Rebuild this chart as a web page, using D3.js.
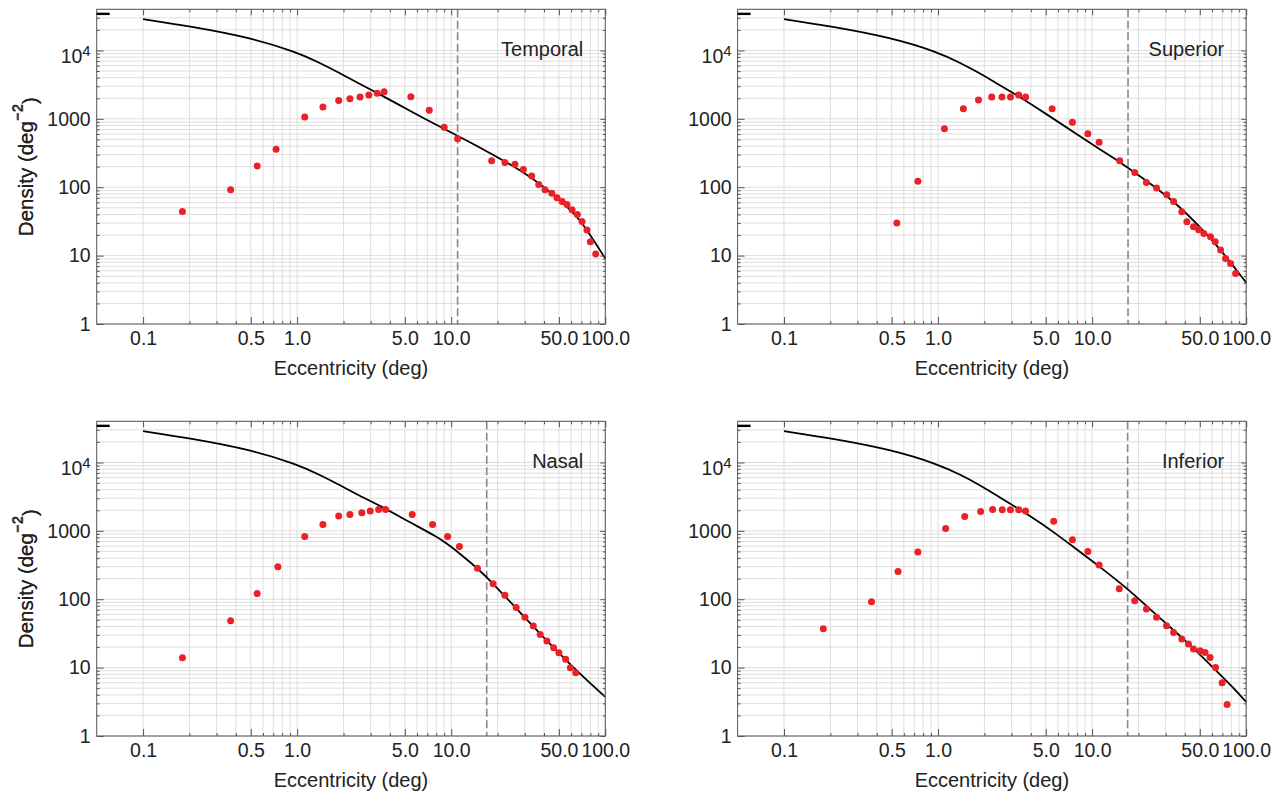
<!DOCTYPE html>
<html>
<head>
<meta charset="utf-8">
<script src="https://cdn.jsdelivr.net/npm/d3@7"></script>
<style>
  body { margin: 0; background: #fff; }
  svg text { font-family: "Liberation Sans", Arial, Helvetica, sans-serif; fill: #222; }
</style>
</head>
<body>
<svg id="chart" width="1283" height="796"></svg>
<script>
// ---- data ----
const temporalEcc = [0.18, 0.37, 0.55, 0.73, 1.12, 1.47, 1.86, 2.2, 2.56, 2.92, 3.31, 3.67, 5.47, 7.2, 9.0, 11.0,
  18.3, 22.3, 25.9, 29.4, 33.3, 37, 40.6, 45, 48.6, 52.4, 56.4, 60.8, 65.8, 70.6, 76, 80, 86.7];
const temporalDensity = [44, 92, 205, 360, 1060, 1490, 1860, 1970, 2080, 2230, 2360, 2500, 2110, 1340, 755, 510,
  243, 230, 217, 181, 146, 110, 92, 82, 70, 62, 56, 47, 40, 31.6, 23.7, 15.9, 10.6];
const temporalFitEcc = [0.1, 0.2, 0.5, 1.0, 1.4, 1.8, 2.43, 3.31, 5.4, 8.04, 13.2, 16.2, 29.4, 41.6, 56, 68.5, 83.6, 100];
const temporalFitDensity = [28650, 22630, 15350, 9410, 6600, 4955, 3420, 2400, 1306, 814, 455, 356, 169, 94.4, 53.7, 33.5, 17.1, 9.07];

const superiorEcc = [0.54, 0.74, 1.1, 1.46, 1.83, 2.23, 2.6, 2.95, 3.34, 3.7, 5.5, 7.45, 9.38, 11.1,
  15.1, 18.9, 22.5, 26.2, 30.5, 33.8, 38.2, 41.2, 45.5, 49.1, 53.1, 58.7, 62.9, 68.2, 73.5, 79.2, 85.4];
const superiorDensity = [30, 122, 716, 1406, 1880, 2080, 2080, 2080, 2230, 2080, 1406, 895, 605, 455,
  243, 164, 117, 97.5, 77.9, 62, 43.9, 31.3, 26.4, 23.9, 21.1, 18.9, 15.9, 12.1, 9.07, 7.65, 5.47];
const superiorFitEcc = [0.1, 0.2, 0.5, 1.0, 1.4, 1.8, 2.3, 3.34, 5.06, 7.53, 11.2, 15.1, 20.4, 33.6, 54.9, 71, 100];
const superiorFitDensity = [28650, 22630, 15350, 9410, 6550, 4850, 3500, 2150, 1170, 645, 358, 235, 146, 65, 21.4, 10.9, 4.03];

const nasalEcc = [0.18, 0.37, 0.55, 0.75, 1.12, 1.47, 1.86, 2.2, 2.63, 2.98, 3.38, 3.75, 5.58, 7.57, 9.47, 11.3,
  14.8, 18.7, 22.3, 26.4, 30.1, 34.1, 37.8, 41.8, 46.2, 50, 55.3, 59.3, 64.3];
const nasalDensity = [13.9, 48.5, 121, 298, 828, 1242, 1645, 1740, 1840, 1945, 2060, 2060, 1740, 1242, 828, 591,
  284, 169, 114, 76, 54.3, 40.6, 30.5, 24.5, 19.5, 16.5, 13.2, 9.93, 8.4];
const nasalFitEcc = [0.1, 0.2, 0.5, 1.0, 1.4, 1.8, 2.43, 3.5, 5.4, 8.0, 9.47, 11.3, 14.8, 18.7, 25.2, 41.6, 68.5, 100];
const nasalFitDensity = [28650, 22630, 15350, 9410, 6600, 4955, 3420, 2300, 1330, 830, 640, 471, 284, 170, 82, 24.7, 8.0, 3.73];

const inferiorEcc = [0.18, 0.37, 0.55, 0.74, 1.12, 1.49, 1.89, 2.26, 2.61, 2.95, 3.34, 3.7, 5.63, 7.45, 9.38, 11.1,
  15.0, 18.9, 22.5, 26.2, 30.4, 33.8, 38.2, 42.2, 45.5, 50.2, 54.1, 58.3, 63.2, 69.8, 75.2];
const inferiorDensity = [37, 92, 254, 490, 1084, 1625, 1925, 2060, 2040, 2040, 2040, 1945, 1386, 741, 499, 318,
  142, 95.4, 72, 54.3, 41, 32.7, 26.2, 22.1, 18.7, 17.6, 16.7, 14.1, 10, 6.0, 2.88];
const inferiorFitEcc = [0.1, 0.2, 0.5, 1.0, 1.4, 1.8, 2.52, 4.14, 5.64, 7.45, 11.1, 17.0, 22.5, 30.4, 41, 61, 82.4, 100];
const inferiorFitDensity = [28650, 22630, 15350, 9410, 6600, 4900, 3100, 1550, 957, 597, 304, 142, 80, 43.4, 24.1, 10, 5.1, 3.15];

// vertical dashed markers (deg)
const cutoffs = { Temporal: 11.0, Superior: 17.1, Nasal: 17.0, Inferior: 17.0 };
const topMark = 34300;   // short black mark in the top-left corner of every panel

const xMajorTicks = [0.1, 0.5, 1, 5, 10, 50, 100];
const yMajorTicks = [1, 10, 100, 1000, 10000];
const xDomain = [0.05, 100];
const yDomain = [1, 40000];

// ---- layout ----
const panelW = 508.6, panelH = 314.7;
const panels = [
  { name: 'Temporal', x0: 96.7, y0: 9.3, ecc: temporalEcc, dens: temporalDensity, fitE: temporalFitEcc, fitD: temporalFitDensity },
  { name: 'Superior', x0: 737.6, y0: 9.3, ecc: superiorEcc, dens: superiorDensity, fitE: superiorFitEcc, fitD: superiorFitDensity },
  { name: 'Nasal', x0: 96.7, y0: 421.3, ecc: nasalEcc, dens: nasalDensity, fitE: nasalFitEcc, fitD: nasalFitDensity },
  { name: 'Inferior', x0: 737.6, y0: 421.3, ecc: inferiorEcc, dens: inferiorDensity, fitE: inferiorFitEcc, fitD: inferiorFitDensity }
];

const frameColor = '#555';
const gridColor = '#dedede';
const dotColor = '#eb2128';

// 1..9 x 10^k positions inside a range
function logSteps(lo, hi) {
  const out = [];
  for (let k = -3; k <= 5; k++) {
    for (let m = 1; m <= 9; m++) {
      const v = +(m * Math.pow(10, k)).toPrecision(3);
      if (v >= lo - 1e-9 && v <= hi + 1e-9) out.push(v);
    }
  }
  return out;
}

const xGrid = logSteps(0.1, 100);
const yGrid = logSteps(1, 40000);
const xMinor = xGrid.filter(v => !xMajorTicks.includes(v));
const yMinor = logSteps(2, 30000).filter(v => !yMajorTicks.includes(v));

const svg = d3.select('#chart');

function styleTicks(sel) {
  sel.select('.domain').remove();
  sel.selectAll('.tick line').attr('stroke', frameColor);
  sel.selectAll('text').style('font-size', '19.5px').attr('fill', '#222');
}

function drawPanel(p) {
  const g = svg.append('g').attr('transform', `translate(${p.x0},${p.y0})`);
  const x = d3.scaleLog().domain(xDomain).range([0, panelW]);
  const y = d3.scaleLog().domain(yDomain).range([panelH, 0]);

  // grid
  g.append('g').selectAll('line').data(xGrid).join('line')
    .attr('x1', d => x(d)).attr('x2', d => x(d))
    .attr('y1', 0).attr('y2', panelH)
    .attr('stroke', gridColor).attr('stroke-width', 1);
  g.append('g').selectAll('line').data(yGrid).join('line')
    .attr('x1', 0).attr('x2', panelW)
    .attr('y1', d => y(d)).attr('y2', d => y(d))
    .attr('stroke', gridColor).attr('stroke-width', 1);

  // dashed cutoff
  g.append('line')
    .attr('x1', x(cutoffs[p.name])).attr('x2', x(cutoffs[p.name]))
    .attr('y1', 0).attr('y2', panelH)
    .attr('stroke', '#888').attr('stroke-width', 1.6)
    .attr('stroke-dasharray', '8,3.5');

  // fit curve (smoothed through the read-off points)
  const line = d3.line()
    .x(d => x(d[0]))
    .y(d => y(d[1]))
    .curve(d3.curveBasis);
  g.append('path')
    .datum(d3.zip(p.fitE, p.fitD))
    .attr('d', line)
    .attr('fill', 'none')
    .attr('stroke', '#000')
    .attr('stroke-width', 1.8);

  // measured points
  g.append('g').selectAll('circle').data(d3.zip(p.ecc, p.dens)).join('circle')
    .attr('cx', d => x(d[0]))
    .attr('cy', d => y(d[1]))
    .attr('r', 3.5)
    .attr('fill', dotColor);

  // axes (ticks inside the frame)
  g.append('g').attr('transform', `translate(0,${panelH})`)
    .call(d3.axisBottom(x).tickValues(xMinor).tickSize(-3).tickFormat(''))
    .call(styleTicks);
  g.append('g').attr('transform', `translate(0,${panelH})`)
    .call(d3.axisBottom(x).tickValues(xMajorTicks).tickSize(-7).tickPadding(7).tickFormat(d3.format('.1f')))
    .call(styleTicks);
  g.append('g')
    .call(d3.axisTop(x).tickValues(xMinor).tickSize(-3).tickFormat(''))
    .call(styleTicks);
  g.append('g')
    .call(d3.axisTop(x).tickValues(xMajorTicks).tickSize(-6).tickFormat(''))
    .call(styleTicks);

  g.append('g')
    .call(d3.axisLeft(y).tickValues(yMinor).tickSize(-3).tickFormat(''))
    .call(styleTicks);
  const yAx = g.append('g')
    .call(d3.axisLeft(y).tickValues(yMajorTicks).tickSize(-7).tickPadding(6).tickFormat(d3.format('d')))
    .call(styleTicks);
  yAx.selectAll('.tick text').filter(d => d === 10000)
    .text('')
    .call(t => {
      t.append('tspan').text('10');
      t.append('tspan').attr('dy', '-0.5em').style('font-size', '15px').text('4');
    })
    .attr('dy', '0.62em');
  g.append('g').attr('transform', `translate(${panelW},0)`)
    .call(d3.axisRight(y).tickValues(yMinor).tickSize(-2.5).tickFormat(''))
    .call(styleTicks);
  g.append('g').attr('transform', `translate(${panelW},0)`)
    .call(d3.axisRight(y).tickValues(yMajorTicks).tickSize(-5).tickFormat(''))
    .call(styleTicks);

  // frame
  g.append('rect')
    .attr('x', 0).attr('y', 0).attr('width', panelW).attr('height', panelH)
    .attr('fill', 'none').attr('stroke', frameColor).attr('stroke-width', 1);

  // corner mark
  g.append('line')
    .attr('x1', 0).attr('x2', 13)
    .attr('y1', y(topMark)).attr('y2', y(topMark))
    .attr('stroke', '#000').attr('stroke-width', 2.4);

  // panel label
  g.append('text')
    .attr('x', panelW - 22).attr('y', 47)
    .attr('text-anchor', 'end')
    .style('font-size', '20px')
    .text(p.name);

  // axis titles
  g.append('text')
    .attr('x', panelW / 2).attr('y', panelH + 51)
    .attr('text-anchor', 'middle')
    .style('font-size', '20px')
    .text('Eccentricity (deg)');

  const yt = g.append('text')
    .attr('transform', `translate(${-p.x0 + 33},${panelH / 2}) rotate(-90)`)
    .attr('text-anchor', 'middle')
    .style('font-size', '20.5px');
  yt.append('tspan').text('Density (deg');
  yt.append('tspan').attr('dy', '-0.7em').style('font-size', '15px').text('\u22122');
  yt.append('tspan').attr('dy', '0.7em').text(')');
}

panels.forEach(drawPanel);
</script>
</body>
</html>
